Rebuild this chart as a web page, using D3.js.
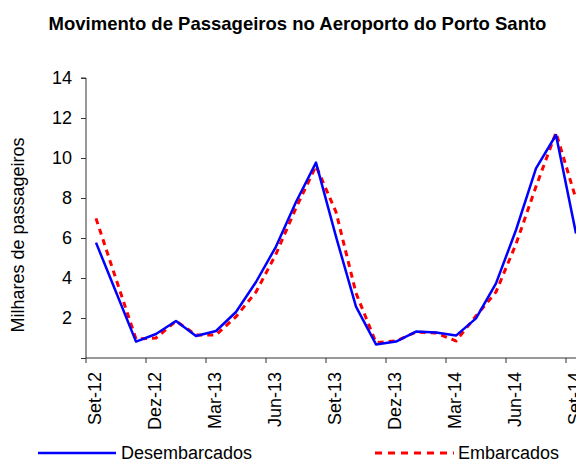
<!DOCTYPE html>
<html>
<head>
<meta charset="utf-8">
<script src="https://cdn.jsdelivr.net/npm/d3@7/dist/d3.min.js"></script>
<style>
  html, body { margin: 0; padding: 0; background: #fff; }
  svg { display: block; font-family: "Liberation Sans", Arial, sans-serif; }
</style>
</head>
<body>
<svg id="chart" width="576" height="461"></svg>
<script>
const months = ["Set-12","Out-12","Nov-12","Dez-12","Jan-13","Fev-13","Mar-13","Abr-13","Mai-13","Jun-13","Jul-13","Ago-13",
                "Set-13","Out-13","Nov-13","Dez-13","Jan-14","Fev-14","Mar-14","Abr-14","Mai-14","Jun-14","Jul-14","Ago-14","Set-14"];
const desembarcados = [5.77, 3.3, 0.82, 1.2, 1.85, 1.1, 1.35, 2.3, 3.8, 5.57, 7.8, 9.77,
                       6.07, 2.57, 0.68, 0.82, 1.32, 1.27, 1.12, 1.98, 3.73, 6.4, 9.48, 11.15, 6.23];
const embarcados = [6.98, 3.95, 0.95, 1.0, 1.85, 1.15, 1.15, 2.07, 3.3, 5.2, 7.5, 9.6,
                    7.3, 3.25, 0.77, 0.85, 1.3, 1.25, 0.85, 2.1, 3.3, 5.7, 8.57, 11.27, 7.95];
const tickLabels = ["Set-12","Dez-12","Mar-13","Jun-13","Set-13","Dez-13","Mar-14","Jun-14","Set-14"];
const yTicks = [2, 4, 6, 8, 10, 12, 14];
const title = "Movimento de Passageiros no Aeroporto do Porto Santo";
const yTitle = "Milhares de passageiros";
const seriesNames = ["Desembarcados", "Embarcados"];

const svg = d3.select("#chart");
const mLeft = 86, mRight = 586, mTop = 78, mBottom = 358;
const fs = 18;

const x = d3.scaleBand().domain(months).range([mLeft, mRight]).padding(0);
const y = d3.scaleLinear().domain([0, 14]).range([mBottom, mTop]);
const cx = m => x(m) + x.bandwidth() / 2;

// title
svg.append("text").attr("x", 297.5).attr("y", 30).attr("text-anchor", "middle")
  .attr("font-size", 18.5).attr("font-weight", "bold").text(title);

// y axis
const yAxis = d3.axisLeft(y).tickValues([0].concat(yTicks)).tickSize(5).tickPadding(9)
  .tickFormat(d => d === 0 ? "" : d);
const gy = svg.append("g").attr("transform", `translate(${mLeft},0)`).call(yAxis);
gy.select(".domain").attr("stroke", "#333").attr("d", `M-5,${mTop}H0V${mBottom}`);
gy.selectAll(".tick line").attr("stroke", "#333");
gy.selectAll(".tick text").attr("font-size", fs).attr("fill", "#000").attr("font-family", "Liberation Sans, Arial, sans-serif");

// y title
svg.append("text").attr("transform", `translate(23.5,235) rotate(-90)`)
  .attr("text-anchor", "middle").attr("font-size", fs).text(yTitle);

// x axis: line + boundary ticks
const tickMonths = months.filter(m => tickLabels.includes(m));
const gx = svg.append("g");
gx.append("line").attr("x1", mLeft).attr("x2", 576).attr("y1", mBottom).attr("y2", mBottom).attr("stroke", "#333");
gx.selectAll("line.t").data(tickMonths).join("line").attr("class", "t")
  .attr("x1", d => x(d)).attr("x2", d => x(d)).attr("y1", mBottom).attr("y2", mBottom + 5).attr("stroke", "#333");
gx.selectAll("text").data(tickMonths).join("text")
  .attr("transform", d => `translate(${cx(d) - 1},${mBottom + 14}) rotate(-90)`)
  .attr("text-anchor", "end").attr("dy", "0.35em").attr("font-size", fs).text(d => d);

// lines
const line = vals => d3.line().x((d, i) => cx(months[i])).y(d => y(d))(vals);
svg.append("path").attr("d", line(embarcados)).attr("fill", "none")
  .attr("stroke", "#ff0000").attr("stroke-width", 3).attr("stroke-dasharray", "6,5");
svg.append("path").attr("d", line(desembarcados)).attr("fill", "none")
  .attr("stroke", "#0000ff").attr("stroke-width", 2.5).attr("stroke-linejoin", "round");

// legend
const ly = 453;
svg.append("line").attr("x1", 38).attr("x2", 116).attr("y1", ly).attr("y2", ly)
  .attr("stroke", "#0000ff").attr("stroke-width", 2.5);
svg.append("text").attr("x", 121).attr("y", ly + 6).attr("font-size", fs).text(seriesNames[0]);
svg.append("line").attr("x1", 375).attr("x2", 454).attr("y1", ly).attr("y2", ly)
  .attr("stroke", "#ff0000").attr("stroke-width", 3).attr("stroke-dasharray", "7,6");
svg.append("text").attr("x", 458).attr("y", ly + 6).attr("font-size", fs).text(seriesNames[1]);
</script>
</body>
</html>
